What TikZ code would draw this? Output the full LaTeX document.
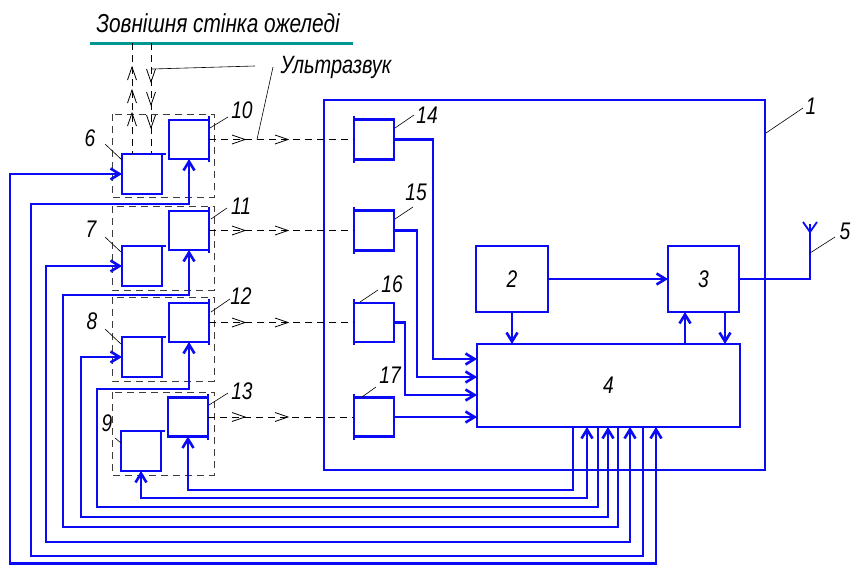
\documentclass[tikz,border=0pt]{standalone}
\usepackage{fontspec}
\setmainfont{Liberation Sans}
\newfontfamily\lblfont[FakeStretch=0.8]{Liberation Sans}
\usetikzlibrary{arrows.meta}
\definecolor{wireblue}{RGB}{10,10,245}
\definecolor{wallteal}{RGB}{0,150,145}
\definecolor{dgray}{RGB}{60,60,60}
\tikzset{
  blk/.style={draw=wireblue, line width=2.6pt, inner sep=0pt, outer sep=0pt,
    font=\lblfont\itshape\fontsize{24}{24}\selectfont},
  wire/.style={draw=wireblue, line width=2.6pt},
  arr/.style={-{Straight Barb[length=9pt,width=11pt]}},
  barr/.style={{Straight Barb[length=9pt,width=11pt]}-{Straight Barb[length=9pt,width=11pt]}},
  lead/.style={draw=black, line width=0.6pt},
  dsh/.style={draw=dgray, line width=0.9pt, dash pattern=on 7pt off 5pt},
  lbl/.style={font=\lblfont\itshape\fontsize{24}{24}\selectfont, inner sep=0pt},
  chev/.style={draw=black, line width=0.8pt},
}
\begin{document}
\begin{tikzpicture}[x=1pt,y=-1pt]
\useasboundingbox (0,0) rectangle (852,565);

% title and wall
\node[anchor=base, inner sep=0pt, font=\lblfont\itshape\fontsize{26}{26}\selectfont] (title) at (218,32) {Зовнішня стінка ожеледі};
\draw[draw=wallteal, line width=3pt] (90,43) coordinate (wallL) -- (353,43) coordinate (wallR);
\node[anchor=base, inner sep=0pt, font=\lblfont\itshape\fontsize{25}{25}\selectfont] (us) at (336,73) {Ультразвук};

% dashed group frames
\draw[dsh] (112,114) rectangle (214,197);
\draw[dsh] (112,206) rectangle (214,290);
\draw[dsh] (112,297) rectangle (214,381);
\draw[dsh] (112,392) rectangle (214,475);

% main boxes
\node[blk, minimum width=441, minimum height=370] (b1) at (544.5,285) {};
\node[blk, minimum width=72, minimum height=66] (b2) at (512,279) {2};
\node[blk, minimum width=71, minimum height=66] (b3) at (703.5,279) {3};
\node[blk, minimum width=263, minimum height=83] (b4) at (608.5,385.5) {4};

% emitters 6-9
\node[blk, minimum width=40, minimum height=40] (b6) at (142,174) {};
\node[blk, minimum width=40, minimum height=40] (b7) at (142,266) {};
\node[blk, minimum width=40, minimum height=40] (b8) at (142,357) {};
\node[blk, minimum width=40, minimum height=40] (b9) at (141,451) {};
% transducers 10-13
\node[blk, minimum width=40, minimum height=39] (b10) at (189,139.5) {};
\node[blk, minimum width=40, minimum height=39] (b11) at (189,230.5) {};
\node[blk, minimum width=40, minimum height=39] (b12) at (189,322.5) {};
\node[blk, minimum width=40, minimum height=39] (b13) at (188,417) {};
% receivers 14-17
\node[blk, minimum width=40, minimum height=40] (b14) at (374,139.5) {};
\node[blk, minimum width=40, minimum height=40] (b15) at (374,230.5) {};
\node[blk, minimum width=40, minimum height=39] (b16) at (374,322.5) {};
\node[blk, minimum width=40, minimum height=39] (b17) at (374,417) {};

% bars
\foreach \b in {b6,b7,b8,b9}
  \draw[wire] ([xshift=-1pt]\b.north west) -- ([xshift=4pt]\b.north east);
\foreach \b in {b10,b11,b12,b13}
  \draw[wire] ([yshift=4pt]\b.north east) -- ([yshift=-3pt]\b.south east);
\foreach \b in {b14,b15,b16,b17}
  \draw[wire] ([yshift=4pt]\b.north west) -- ([yshift=-3pt]\b.south west);

% vertical ultrasound paths to the wall
\draw[dsh, draw=black] (132,43) -- (b6.north -| 132,0);
\draw[dsh, draw=black] (151,43) -- (b6.north -| 151,0);
\foreach \t in {67,90,113}
  \draw[chev] (127.5,\t+13) -- (132,\t) -- (136.5,\t+13);
\foreach \t in {82,105,128}
  \draw[chev] (146.5,\t-13) -- (151,\t) -- (155.5,\t-13);

% horizontal ultrasound paths
\draw[dsh, draw=black] (b10.east) -- (b10.east -| b14.west);
\draw[dsh, draw=black] (b11.east) -- (b11.east -| b15.west);
\draw[dsh, draw=black] (b12.east) -- (b12.east -| b16.west);
\draw[dsh, draw=black] (b13.east) -- (b13.east -| b17.west);
\foreach \y in {139.5,230.5,322.5,417}
  \foreach \x in {245,288}
    \draw[chev] (\x-13,\y-4.5) -- (\x,\y) -- (\x-13,\y+4.5);

% receivers to block 4
\draw[wire, arr] (b14.east) -| (433,359) -- (b4.west |- 0,359);
\draw[wire, arr] (b15.east) -| (417,377) -- (b4.west |- 0,377);
\draw[wire, arr] (b16.east) -| (405,395) -- (b4.west |- 0,395);
\draw[wire, arr] (b17.east) -- (b4.west |- b17.east);

% blocks 2,3,4
\draw[wire, arr] (b2.east) -- (b3.west);
\draw[wire, arr] (b2.south) -- (b2.south |- b4.north);
\draw[wire, arr] (b4.north -| 685,0) -- (b3.south -| 685,0);
\draw[wire, arr] (b3.south -| 725,0) -- (b4.north -| 725,0);

% antenna
\draw[wire] (b3.east) -- (810,279) -- (810,224) coordinate (ant);
\draw[draw=wireblue, line width=1.8pt] (803,222) -- (810,232) -- (817,222);

% wiring from block 4
\draw[wire, arr] (b4.south -| 573,0) -- (573,490) -| (b13.south);
\draw[wire, barr] (b9.south) |- (587,498) -- (b4.south -| 587,0);
\draw[wire, arr] (b4.south -| 598,0) -- (598,507) -- (97,507) -- (97,389) -| (b12.south);
\draw[wire, barr] (b8.west) -- (81,357) -- (81,517) -- (608,517) -- (b4.south -| 608,0);
\draw[wire, arr] (b4.south -| 618,0) -- (618,527) -- (63,527) -- (63,295) -| (b11.south);
\draw[wire, barr] (b7.west) -- (46,266) -- (46,542) -- (630,542) -- (b4.south -| 630,0);
\draw[wire, arr] (b4.south -| 643,0) -- (643,556) -- (31,556) -- (31,204) -| (b10.south);
\draw[wire, barr] (b6.west) -- (10,174) -- (10,563.3) -- (656,563.3) -- (b4.south -| 656,0);

% labels and leaders
\node[lbl] (l1) at (811,106) {1};   \draw[lead] (766,133) -- (803,108);
\node[lbl] (l5) at (845,231) {5};   \draw[lead] (810,253) -- (835,237);
\node[lbl] (l14) at (427,115) {14}; \draw[lead] (395,128) -- (414,115);
\node[lbl] (l15) at (416,192) {15}; \draw[lead] (395,219) -- (413,207);
\node[lbl] (l16) at (392,284) {16}; \draw[lead] (360,302) -- (378,290);
\node[lbl] (l17) at (390,375) {17}; \draw[lead] (362,397) -- (376,387);
\node[lbl] (l6) at (90,138) {6};    \draw[lead] (105,144) -- (122,160);
\node[lbl] (l7) at (91,229) {7};    \draw[lead] (105,237) -- (121,252);
\node[lbl] (l8) at (92,321) {8};    \draw[lead] (105,329) -- (121,344);
\node[lbl] (l9) at (107,423) {9};   \draw[lead] (115,438) -- (121,443);
\node[lbl] (l10) at (242,110) {10}; \draw[lead] (210,128) -- (228,117);
\node[lbl] (l11) at (241,206) {11}; \draw[lead] (211,219) -- (227,208);
\node[lbl] (l12) at (241,296) {12}; \draw[lead] (211,312) -- (230,299);
\node[lbl] (l13) at (242,391) {13}; \draw[lead] (209,405) -- (228,393);
% ultrasound leaders
\draw[lead] (152,69) -- (255,66);
\draw[lead] (273,67) -- (257,139.5);
\end{tikzpicture}
\end{document}
